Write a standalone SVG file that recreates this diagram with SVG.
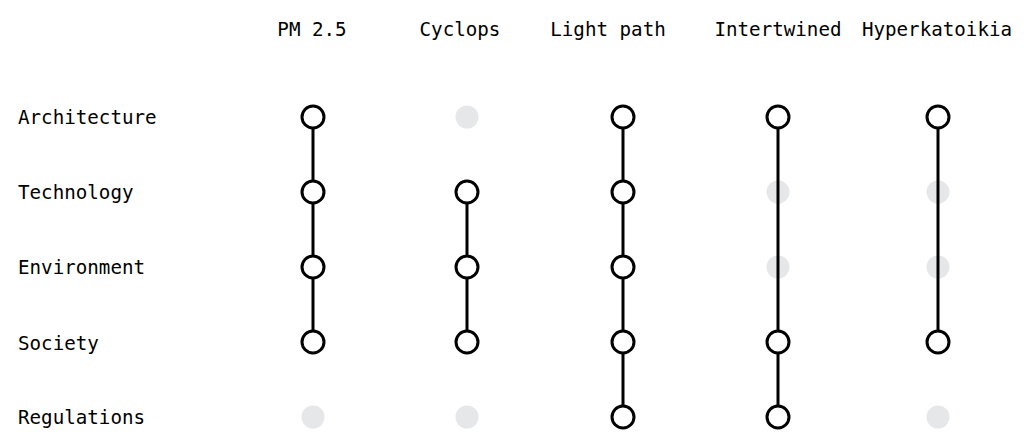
<svg xmlns="http://www.w3.org/2000/svg" width="1024" height="444" viewBox="0 0 1024 444">
<style>
text{font-family:"DejaVu Sans Mono","Liberation Mono",monospace;font-size:19.2px;fill:#000}
.g{fill:#e6e7e9}
.n{fill:#fff;stroke:#000;stroke-width:3}
.l{stroke:#000;stroke-width:3;fill:none}
</style>
<rect width="1024" height="444" fill="#fff"/>
<g id="headers">
<text x="312" y="36" text-anchor="middle">PM 2.5</text>
<text x="460" y="36" text-anchor="middle">Cyclops</text>
<text x="608" y="36" text-anchor="middle">Light path</text>
<text x="778" y="36" text-anchor="middle">Intertwined</text>
<text x="937" y="36" text-anchor="middle">Hyperkatoikia</text>
</g>
<g id="rows">
<text x="18" y="124">Architecture</text>
<text x="18" y="199">Technology</text>
<text x="18" y="274">Environment</text>
<text x="18" y="350">Society</text>
<text x="18" y="424">Regulations</text>
</g>
<g id="empty">
<circle class="g" cx="313" cy="417" r="11.5"/>
<circle class="g" cx="467" cy="117" r="11.5"/>
<circle class="g" cx="467" cy="417" r="11.5"/>
<circle class="g" cx="778" cy="192" r="11.5"/>
<circle class="g" cx="778" cy="267" r="11.5"/>
<circle class="g" cx="938" cy="192" r="11.5"/>
<circle class="g" cx="938" cy="267" r="11.5"/>
<circle class="g" cx="938" cy="417" r="11.5"/>
</g>
<g id="connectors">
<line class="l" x1="313" y1="117" x2="313" y2="342"/>
<line class="l" x1="467" y1="192" x2="467" y2="342"/>
<line class="l" x1="623" y1="117" x2="623" y2="417"/>
<line class="l" x1="778" y1="117" x2="778" y2="417"/>
<line class="l" x1="938" y1="117" x2="938" y2="342"/>
</g>
<g id="pm25">
<circle class="n" cx="313" cy="117" r="11"/>
<circle class="n" cx="313" cy="192" r="11"/>
<circle class="n" cx="313" cy="267" r="11"/>
<circle class="n" cx="313" cy="342" r="11"/>
</g>
<g id="cyclops">
<circle class="n" cx="467" cy="192" r="11"/>
<circle class="n" cx="467" cy="267" r="11"/>
<circle class="n" cx="467" cy="342" r="11"/>
</g>
<g id="lightpath">
<circle class="n" cx="623" cy="117" r="11"/>
<circle class="n" cx="623" cy="192" r="11"/>
<circle class="n" cx="623" cy="267" r="11"/>
<circle class="n" cx="623" cy="342" r="11"/>
<circle class="n" cx="623" cy="417" r="11"/>
</g>
<g id="intertwined">
<circle class="n" cx="778" cy="117" r="11"/>
<circle class="n" cx="778" cy="342" r="11"/>
<circle class="n" cx="778" cy="417" r="11"/>
</g>
<g id="hyperkatoikia">
<circle class="n" cx="938" cy="117" r="11"/>
<circle class="n" cx="938" cy="342" r="11"/>
</g>
</svg>
